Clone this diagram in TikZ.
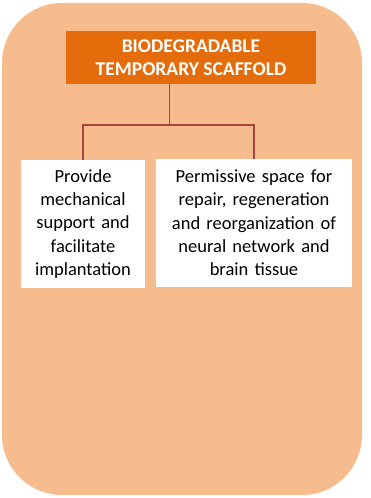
\documentclass[tikz,border=0pt]{standalone}
\usepackage{fontspec}
\setmainfont{Carlito}
\definecolor{peach}{HTML}{F6BC8D}
\definecolor{rust}{HTML}{E46C0A}
\definecolor{linkred}{HTML}{A5453B}
\tikzset{
  leafbox/.style={fill=white, minimum height=128pt, inner sep=2pt, align=center,
    font=\fontsize{18.5pt}{23.3pt}\selectfont},
  link/.style={linkred, line width=1.5pt}
}
\begin{document}
\begin{tikzpicture}[x=1pt,y=1pt]
\useasboundingbox (0,0) rectangle (370,498);
\fill[peach, rounded corners=60pt] (2,3) rectangle (362,495);
\node [fill=rust, text=white, minimum width=250pt, minimum height=53pt, align=center,
  font=\bfseries\fontsize{19.5pt}{23.5pt}\selectfont] (scaffold) at (191,440.5)
  {BIODEGRADABLE\\TEMPORARY SCAFFOLD};
\node [leafbox, minimum width=124pt, text width=118pt] (support) at (83,274)
  {Provide\\mechanical\\support and\\facilitate\\implantation};
\node [leafbox, minimum width=196pt, text width=190pt] (space) at (254,275)
  {Permissive space for\\repair, regeneration\\and reorganization of\\neural network and\\brain tissue};
\coordinate (hub) at (169.5,373);
\draw [link] (hub |- scaffold.south) -- (hub);
\draw [link] (support.north) |- (hub) -| (space.north);
\end{tikzpicture}
\end{document}
